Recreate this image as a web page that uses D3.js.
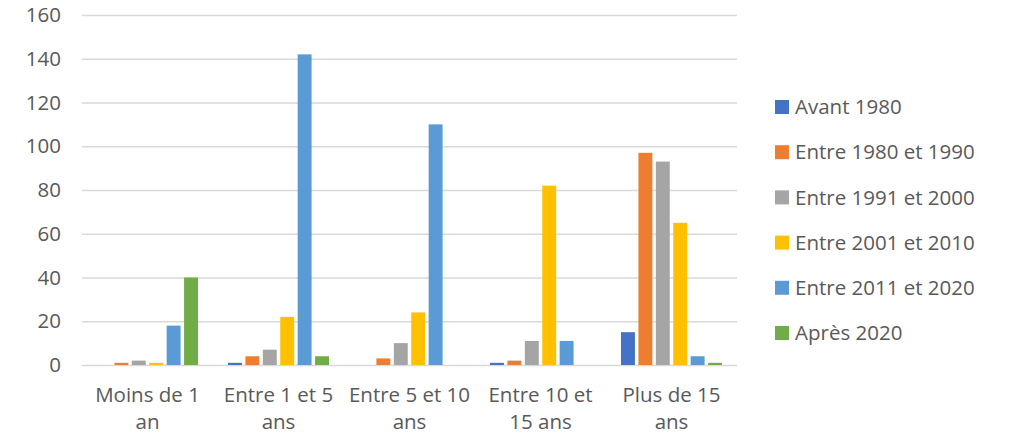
<!doctype html>
<html lang="fr">
<head>
  <meta charset="utf-8">
  <title>Ancienneté</title>
  <script src="https://d3js.org/d3.v7.min.js" charset="utf-8"></script>
</head>
<body style="margin:0;background:#fff">
<style>
.chart text {
  fill: #595959;
  font: 20.5px "Open Sans", "Liberation Sans", sans-serif;
}
.chart .grid line { stroke: #d9d9d9; stroke-width: 1.3; }
.chart .domain { display: none; }
</style>
<svg class="chart"></svg>
<script>
var categories = [["Moins de 1", "an"], ["Entre 1 et 5", "ans"], ["Entre 5 et 10", "ans"], ["Entre 10 et", "15 ans"], ["Plus de 15", "ans"]];
var seriesNames = ["Avant 1980", "Entre 1980 et 1990", "Entre 1991 et 2000", "Entre 2001 et 2010", "Entre 2011 et 2020", "Après 2020"];
var colors = ["#4472c4", "#ed7d31", "#a5a5a5", "#ffc000", "#5b9bd5", "#70ad47"];
// one array per series, values per category
var avant1980 = [0, 1, 0, 1, 15];
var s1980_1990 = [1, 4, 3, 2, 97];
var s1991_2000 = [2, 7, 10, 11, 93];
var s2001_2010 = [1, 22, 24, 82, 65];
var s2011_2020 = [18, 142, 110, 11, 4];
var apres2020 = [40, 4, 0, 0, 1];
var yTicks = [0, 20, 40, 60, 80, 100, 120, 140, 160];

var series = [avant1980, s1980_1990, s1991_2000, s2001_2010, s2011_2020, apres2020];

var width = 1009, height = 436;
var mLeft = 82, mRight = 737, mTop = 15, mBottom = 365;

var svg = d3.select(".chart").attr("width", width).attr("height", height);

var x0 = d3.scaleBand().domain(d3.range(categories.length)).range([mLeft, mRight]);
var x1 = d3.scaleBand().domain(d3.range(series.length)).range([15, 116]).paddingInner(0.2);
var y = d3.scaleLinear().domain([0, 160]).range([mBottom, mTop]);

svg.append("g")
  .attr("class", "grid")
  .attr("transform", "translate(" + mLeft + ",0)")
  .call(d3.axisLeft(y).tickValues(yTicks).tickSize(-(mRight - mLeft)).tickFormat(""));

yTicks.forEach(function(t) {
  svg.append("text")
    .attr("x", 61)
    .attr("y", y(t))
    .attr("dy", ".35em")
    .attr("text-anchor", "end")
    .text(t);
});

var group = svg.selectAll("g.cat")
  .data(categories)
  .enter().append("g")
  .attr("class", "cat")
  .attr("transform", function(d, i) { return "translate(" + x0(i) + ",0)"; });

group.selectAll("rect")
  .data(function(d, i) { return series.map(function(s, j) { return {j: j, v: s[i]}; }); })
  .enter().append("rect")
  .attr("x", function(d) { return x1(d.j); })
  .attr("width", x1.bandwidth())
  .attr("y", function(d) { return y(d.v); })
  .attr("height", function(d) { return y(0) - y(d.v); })
  .attr("fill", function(d) { return colors[d.j]; });

group.each(function(d) {
  var g = d3.select(this);
  d.forEach(function(line, k) {
    g.append("text")
      .attr("x", x0.bandwidth() / 2)
      .attr("y", 395 + k * 27)
      .attr("dy", ".35em")
      .attr("text-anchor", "middle")
      .text(line);
  });
});

var legend = svg.selectAll("g.leg")
  .data(seriesNames)
  .enter().append("g")
  .attr("class", "leg")
  .attr("transform", function(d, i) { return "translate(775," + (107 + i * 45.2) + ")"; });

legend.append("rect")
  .attr("x", 0).attr("y", -7)
  .attr("width", 14).attr("height", 14)
  .attr("fill", function(d, i) { return colors[i]; });

legend.append("text")
  .attr("x", 20)
  .attr("dy", ".35em")
  .text(function(d) { return d; });
</script>
</body>
</html>
